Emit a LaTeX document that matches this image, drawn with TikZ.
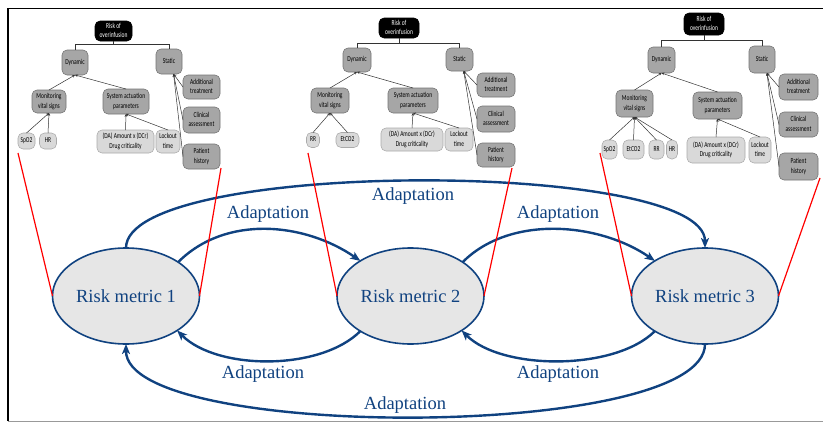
\documentclass[tikz,border=0pt]{standalone}
\usepackage{fontspec}
\usepackage{graphicx}
\setmainfont{Liberation Serif}
\newfontfamily\boxfont{Carlito}
\usetikzlibrary{arrows.meta,shapes.geometric}

\definecolor{navy}{RGB}{16,66,128}
\definecolor{metricfill}{RGB}{230,230,230}
\definecolor{nodegray}{RGB}{166,166,166}
\definecolor{leafgray}{RGB}{217,217,217}
\definecolor{edgegray}{RGB}{115,115,115}
\definecolor{leafedge}{RGB}{170,170,170}
\definecolor{linkred}{RGB}{255,0,0}

% small tree labels: tall, narrow lettering
\newcommand\bt[1]{\scalebox{1}[1.38]{\begin{tabular}{@{}c@{}}#1\end{tabular}}}

\begin{document}
\begin{tikzpicture}[x=1pt,y=-1pt,
  metric/.style={ellipse, draw=navy, line width=1.6pt, fill=metricfill,
    minimum width=147pt, minimum height=96pt, inner sep=0pt, outer sep=0pt,
    text=navy, font=\fontsize{18.5}{22}\selectfont},
  adapt/.style={draw=navy, line width=2.4pt, -{Stealth[length=10pt,width=8pt,inset=2.5pt]}},
  adlabel/.style={text=navy, font=\fontsize{18.5}{22}\selectfont, inner sep=0pt},
  tbox/.style={rounded corners=5pt, draw=edgegray, line width=0.55pt, fill=nodegray,
    font=\boxfont\fontsize{5.5}{6.8}\selectfont, align=center, inner sep=0pt, outer sep=0pt},
  leafbox/.style={tbox, fill=leafgray, draw=leafedge},
  rootbox/.style={tbox, fill=black, draw=black, text=white},
  tlink/.style={draw=black!80, line width=0.5pt, -{Stealth[length=2.8pt,width=2.6pt]}},
  tbranch/.style={draw=black!80, line width=0.5pt},
  redline/.style={draw=linkred, line width=1.2pt},
]
\useasboundingbox (0,0) rectangle (823,423);

% frame
\draw[line width=1.5pt] (823,8.5) -- (8,8.5) -- (8,421);
\draw[gray!80, line width=1pt] (8,421.5) -- (823,421.5);

% ---------- tree 1 ----------
\node[rootbox, minimum width=37pt, minimum height=20pt] (a-root) at (113.5,31) {\bt{Risk of\\overinfusion}};
\node[tbox, minimum width=26pt, minimum height=25pt] (a-dyn) at (75,62.5) {\bt{Dynamic}};
\node[tbox, minimum width=26pt, minimum height=25pt] (a-sta) at (169,61.5) {\bt{Static}};
\node[tbox, minimum width=34pt, minimum height=23pt] (a-mon) at (49,101.5) {\bt{Monitoring\\vital signs}};
\node[tbox, minimum width=46pt, minimum height=25pt] (a-sys) at (126,101.5) {\bt{System actuation\\parameters}};
\node[leafbox, minimum width=17pt, minimum height=16pt] (a-spo) at (26.5,141) {\bt{SpO2}};
\node[leafbox, minimum width=17pt, minimum height=16pt] (a-hr) at (48,141) {\bt{HR}};
\node[leafbox, minimum width=57pt, minimum height=23pt] (a-da) at (125.5,141.5) {\bt{(DA) Amount x (DCr)\\Drug criticality}};
\node[leafbox, minimum width=24pt, minimum height=23pt] (a-lock) at (168,141.5) {\bt{Lockout\\time}};
\node[tbox, minimum width=37pt, minimum height=24pt] (a-add) at (201.5,87) {\bt{Additional\\treatment}};
\node[tbox, minimum width=37pt, minimum height=26pt] (a-cli) at (201.5,120) {\bt{Clinical\\assessment}};
\node[tbox, minimum width=37pt, minimum height=25pt] (a-pat) at (201.5,156.5) {\bt{Patient\\history}};
\draw[tbranch] (a-dyn.north) -- ++(0,-6) coordinate (a-j) -| (a-sta.north);
\draw[tbranch] (a-root.south) -- (a-root.south |- a-j);
\draw[tlink] (a-mon.north) -- (a-dyn.south);
\draw[tlink] (a-sys.north) -- (a-dyn.south);
\draw[tlink] (a-spo.north) -- (a-mon.south);
\draw[tlink] (a-hr.north) -- (a-mon.south);
\draw[tlink] (a-da.north) -- (a-sys.south);
\draw[tlink] (a-lock.north) -- (a-sys.south);
\draw[tlink] (a-add.west) -- (a-sta.-70);
\draw[tlink] (a-cli.west) -- (a-sta.-70);
\draw[tlink] (a-pat.west) -- (a-sta.-70);

% ---------- tree 2 ----------
\node[rootbox, minimum width=40pt, minimum height=20pt] (b-root) at (399,28) {\bt{Risk of\\overinfusion}};
\node[tbox, minimum width=28pt, minimum height=24pt] (b-dyn) at (357,60) {\bt{Dynamic}};
\node[tbox, minimum width=27pt, minimum height=23pt] (b-sta) at (459.5,59.5) {\bt{Static}};
\node[tbox, minimum width=38pt, minimum height=25pt] (b-mon) at (330,100.5) {\bt{Monitoring\\vital signs}};
\node[tbox, minimum width=50pt, minimum height=25pt] (b-sys) at (413,100.5) {\bt{System actuation\\parameters}};
\node[leafbox, minimum width=13pt, minimum height=15pt] (b-rr) at (313,140) {\bt{RR}};
\node[leafbox, minimum width=23pt, minimum height=15pt] (b-etc) at (347.5,140) {\bt{EtCO2}};
\node[leafbox, minimum width=62pt, minimum height=23pt] (b-da) at (412,139.5) {\bt{(DA) Amount x (DCr)\\Drug criticality}};
\node[leafbox, minimum width=28pt, minimum height=23pt] (b-lock) at (459,139.5) {\bt{Lockout\\time}};
\node[tbox, minimum width=38pt, minimum height=24pt] (b-add) at (496,85) {\bt{Additional\\treatment}};
\node[tbox, minimum width=38pt, minimum height=26pt] (b-cli) at (496,119) {\bt{Clinical\\assessment}};
\node[tbox, minimum width=38pt, minimum height=24pt] (b-pat) at (496,155) {\bt{Patient\\history}};
\draw[tbranch] (b-dyn.north) -- ++(0,-5) coordinate (b-j) -| (b-sta.north);
\draw[tbranch] (b-root.south) -- (b-root.south |- b-j);
\draw[tlink] (b-mon.north) -- (b-dyn.south);
\draw[tlink] (b-sys.north) -- (b-dyn.south);
\draw[tlink] (b-rr.north) -- (b-mon.south);
\draw[tlink] (b-etc.north) -- (b-mon.south);
\draw[tlink] (b-da.north) -- (b-sys.south);
\draw[tlink] (b-lock.north) -- (b-sys.south);
\draw[tlink] (b-add.west) -- (b-sta.-70);
\draw[tlink] (b-cli.west) -- (b-sta.-70);
\draw[tlink] (b-pat.west) -- (b-sta.-70);

% ---------- tree 3 ----------
\node[rootbox, minimum width=40pt, minimum height=22pt] (c-root) at (704,24) {\bt{Risk of\\overinfusion}};
\node[tbox, minimum width=27pt, minimum height=26pt] (c-dyn) at (661.5,60) {\bt{Dynamic}};
\node[tbox, minimum width=26pt, minimum height=27pt] (c-sta) at (762,59.5) {\bt{Static}};
\node[tbox, minimum width=37pt, minimum height=27pt] (c-mon) at (634.5,103.5) {\bt{Monitoring\\vital signs}};
\node[tbox, minimum width=49pt, minimum height=27pt] (c-sys) at (717.5,105.5) {\bt{System actuation\\parameters}};
\node[leafbox, minimum width=15pt, minimum height=19pt] (c-spo) at (609.5,149.5) {\bt{SpO2}};
\node[leafbox, minimum width=21pt, minimum height=19pt] (c-etc) at (633.5,149.5) {\bt{EtCO2}};
\node[leafbox, minimum width=15pt, minimum height=19pt] (c-rr) at (656.5,149.5) {\bt{RR}};
\node[leafbox, minimum width=11pt, minimum height=19pt] (c-hr) at (672,149.5) {\bt{HR}};
\node[leafbox, minimum width=58pt, minimum height=26pt] (c-da) at (716,150) {\bt{(DA) Amount x (DCr)\\Drug criticality}};
\node[leafbox, minimum width=22pt, minimum height=26pt] (c-lock) at (760,150) {\bt{Lockout\\time}};
\node[tbox, minimum width=39pt, minimum height=26pt] (c-add) at (798.5,87) {\bt{Additional\\treatment}};
\node[tbox, minimum width=39pt, minimum height=25pt] (c-cli) at (798.5,124.5) {\bt{Clinical\\assessment}};
\node[tbox, minimum width=39pt, minimum height=27pt] (c-pat) at (798.5,166.5) {\bt{Patient\\history}};
\draw[tbranch] (c-dyn.north) -- ++(0,-7) coordinate (c-j) -| (c-sta.north);
\draw[tbranch] (c-root.south) -- (c-root.south |- c-j);
\draw[tlink] (c-mon.north) -- (c-dyn.south);
\draw[tlink] (c-sys.north) -- (c-dyn.south);
\draw[tlink] (c-spo.north) -- (c-mon.south);
\draw[tlink] (c-etc.north) -- (c-mon.south);
\draw[tlink] (c-rr.north) -- (c-mon.south);
\draw[tlink] (c-hr.north) -- (c-mon.south);
\draw[tlink] (c-da.north) -- (c-sys.south);
\draw[tlink] (c-lock.north) -- (c-sys.south);
\draw[tlink] (c-add.west) -- (c-sta.-70);
\draw[tlink] (c-cli.west) -- (c-sta.-70);
\draw[tlink] (c-pat.west) -- (c-sta.-70);

% ---------- risk metrics ----------
\node[metric] (m1) at (126,296) {Risk metric 1};
\node[metric] (m2) at (410.5,296) {Risk metric 2};
\node[metric] (m3) at (705,296) {Risk metric 3};

% adaptation arcs
\draw[adapt] (m1.33) .. controls +(48,-48) and +(-55,-38) .. (m2.145);
\draw[adapt] (m2.33) .. controls +(48,-48) and +(-55,-38) .. (m3.145);
\draw[adapt] (m2.215) .. controls +(-40,40) and +(40,40) .. (m1.-34);
\draw[adapt] (m3.215) .. controls +(-40,40) and +(40,40) .. (m2.-34);
\draw[adapt] (m1.north) .. controls +(0,-89) and +(0,-89) .. (m3.north);
\draw[adapt] (m3.south) .. controls +(0,97) and +(0,97) .. (m1.south);

\node[adlabel] (lab-t12) at (268,214) {Adaptation};
\node[adlabel] (lab-t23) at (558,214) {Adaptation};
\node[adlabel] (lab-b21) at (263,374) {Adaptation};
\node[adlabel] (lab-b32) at (558,374) {Adaptation};
\node[adlabel] (lab-top) at (413,196) {Adaptation};
\node[adlabel] (lab-bot) at (405,405) {Adaptation};

% links from each metric up to its tree
\coordinate (r1a) at (18,153);
\coordinate (r1b) at (221,168);
\coordinate (r2a) at (308,153);
\coordinate (r2b) at (512,168);
\coordinate (r3a) at (600,153);
\coordinate (r3b) at (820,178);
\draw[redline] (m1.west) -- (r1a);
\draw[redline] (m1.east) -- (r1b);
\draw[redline] (m2.west) -- (r2a);
\draw[redline] (m2.east) -- (r2b);
\draw[redline] (m3.west) -- (r3a);
\draw[redline] (m3.east) -- (r3b);
\end{tikzpicture}
\end{document}
